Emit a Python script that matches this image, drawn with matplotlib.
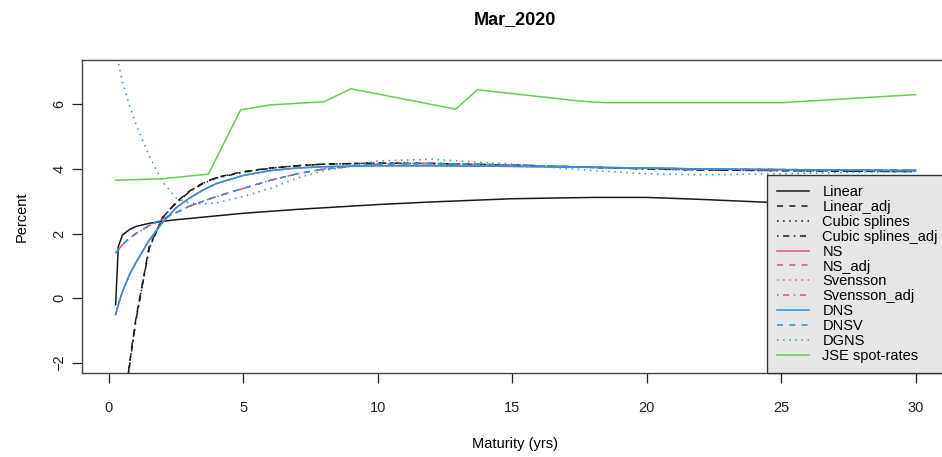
import matplotlib
matplotlib.use("Agg")
import matplotlib.pyplot as plt

plt.rcParams['font.family'] = ['Liberation Sans', 'DejaVu Sans']

# maturities (years) for the fitted curves
maturity = [0.25, 0.35, 0.5, 0.75, 1, 1.5, 2, 2.5, 3, 3.5, 4, 5, 6, 7, 8,
            10, 12, 15, 18, 20, 22, 25, 28, 30]

linear = [-0.2, 1.6, 1.95, 2.12, 2.22, 2.32, 2.38, 2.43, 2.47, 2.51, 2.55, 2.63,
          2.69, 2.75, 2.8, 2.9, 2.98, 3.08, 3.12, 3.12, 3.06, 2.95, 2.88, 2.85]
linear_adj = [-8.8, -6.3, -4.2, -2.1, -0.65, 1.6, 2.5, 2.97, 3.32, 3.57, 3.74, 3.92,
              4.03, 4.1, 4.15, 4.18, 4.17, 4.12, 4.05, 4.01, 3.97, 3.95, 3.93, 3.92]
cubic = [-8.9, -6.4, -4.25, -2.15, -0.7, 1.55, 2.5, 2.96, 3.31, 3.56, 3.73, 3.91,
         4.02, 4.1, 4.15, 4.18, 4.17, 4.12, 4.05, 4.0, 3.97, 3.95, 3.93, 3.92]
cubic_adj = [-9.0, -6.5, -4.3, -2.2, -0.7, 1.55, 2.5, 2.95, 3.3, 3.55, 3.72, 3.9,
             4.02, 4.1, 4.15, 4.18, 4.17, 4.12, 4.05, 4.0, 3.97, 3.95, 3.93, 3.92]
ns = [-0.5, -0.2, 0.2, 0.7, 1.1, 1.8, 2.35, 2.8, 3.1, 3.35, 3.55, 3.8,
      3.95, 4.03, 4.07, 4.1, 4.1, 4.08, 4.05, 4.03, 4.0, 3.98, 3.96, 3.95]
ns_adj = [1.4, 1.5, 1.65, 1.85, 2.0, 2.25, 2.45, 2.65, 2.85, 3.0, 3.15, 3.4,
          3.65, 3.85, 4.0, 4.15, 4.17, 4.12, 4.05, 4.02, 4.0, 3.98, 3.97, 3.97]
svensson = [-0.5, -0.2, 0.2, 0.7, 1.1, 1.8, 2.35, 2.8, 3.1, 3.35, 3.55, 3.8,
            3.95, 4.03, 4.07, 4.1, 4.1, 4.08, 4.05, 4.03, 4.0, 3.98, 3.96, 3.95]
svensson_adj = [1.4, 1.5, 1.65, 1.85, 2.0, 2.25, 2.45, 2.65, 2.85, 3.0, 3.15, 3.4,
                3.65, 3.85, 4.0, 4.15, 4.17, 4.12, 4.05, 4.02, 4.0, 3.98, 3.97, 3.97]
dns = [-0.5, -0.2, 0.2, 0.7, 1.1, 1.8, 2.35, 2.8, 3.1, 3.35, 3.55, 3.8,
       3.95, 4.03, 4.07, 4.1, 4.1, 4.08, 4.05, 4.03, 4.0, 3.98, 3.96, 3.95]
dnsv = [1.4, 1.5, 1.65, 1.85, 2.0, 2.25, 2.45, 2.65, 2.85, 3.0, 3.15, 3.4,
        3.65, 3.85, 4.0, 4.15, 4.17, 4.12, 4.05, 4.02, 4.0, 3.98, 3.97, 3.97]
dgns = [8.0, 7.3, 6.7, 6.0, 5.4, 4.4, 3.6, 3.1, 2.95, 2.92, 2.95, 3.15,
        3.4, 3.72, 3.95, 4.25, 4.3, 4.15, 3.95, 3.85, 3.82, 3.85, 3.9, 3.92]

# JSE observed spot rates
jse_maturity = [0.25, 2, 3.7, 4.9, 6, 8, 9, 12.9, 13.7, 17.5, 18.4, 25, 30]
jse_rate = [3.65, 3.7, 3.84, 5.83, 5.98, 6.08, 6.48, 5.85, 6.45, 6.1, 6.05, 6.05, 6.3]

black = '#1a1a1a'
pink = '#DF536B'
blue = '#2297E6'
green = '#61D04F'
solid, dashed, dotted, dotdash = '-', (0, (4, 4)), (0, (1, 3)), (0, (1, 3, 4, 3))

series = [
    ('Linear', linear, black, solid),
    ('Linear_adj', linear_adj, black, dashed),
    ('Cubic splines', cubic, black, dotted),
    ('Cubic splines_adj', cubic_adj, black, dotdash),
    ('NS', ns, pink, solid),
    ('NS_adj', ns_adj, pink, dashed),
    ('Svensson', svensson, pink, dotted),
    ('Svensson_adj', svensson_adj, pink, dotdash),
    ('DNS', dns, blue, solid),
    ('DNSV', dnsv, blue, dashed),
    ('DGNS', dgns, blue, dotted),
]

fig = plt.figure(figsize=(9.42, 4.57), dpi=100)
ax = fig.add_axes([82 / 942, 84 / 457, 866 / 942, 313 / 457])

for name, vals, col, ls in series:
    ax.plot(maturity, vals, color=col, linestyle=ls, lw=1.1, label=name)
ax.plot(jse_maturity, jse_rate, color=green, lw=1.1, label='JSE spot-rates')

ax.set_xlim(-1.0, 31.2)
ax.set_ylim(-2.31, 7.37)
ax.set_xticks([0, 5, 10, 15, 20, 25, 30])
ax.set_yticks([-2, 0, 2, 4, 6])
ax.tick_params(direction='out', length=7, width=0.9, labelsize=10.5, colors='#222222')
ax.tick_params(axis='x', pad=13)
ax.tick_params(axis='y', pad=4)
for lab in ax.get_yticklabels():
    lab.set_rotation(90)
    lab.set_va('center')
for sp in ax.spines.values():
    sp.set_color('#444444')
    sp.set_linewidth(1.0)

ax.set_xlabel('Maturity (yrs)', fontsize=10.5, labelpad=16)
ax.set_ylabel('Percent', fontsize=10.5, labelpad=17)
fig.text(515 / 942, 1 - 20 / 457, 'Mar_2020', ha='center', va='center',
         fontsize=13, fontweight='bold')

leg = ax.legend(loc='lower right', borderaxespad=0, fontsize=10.5, labelspacing=0.06,
                handlelength=2.2, handletextpad=0.9, borderpad=0.7,
                fancybox=False, framealpha=1, facecolor='#e6e6e6', edgecolor='#333333')
leg.get_frame().set_linewidth(1.0)

fig.savefig('out.png', dpi=100)
